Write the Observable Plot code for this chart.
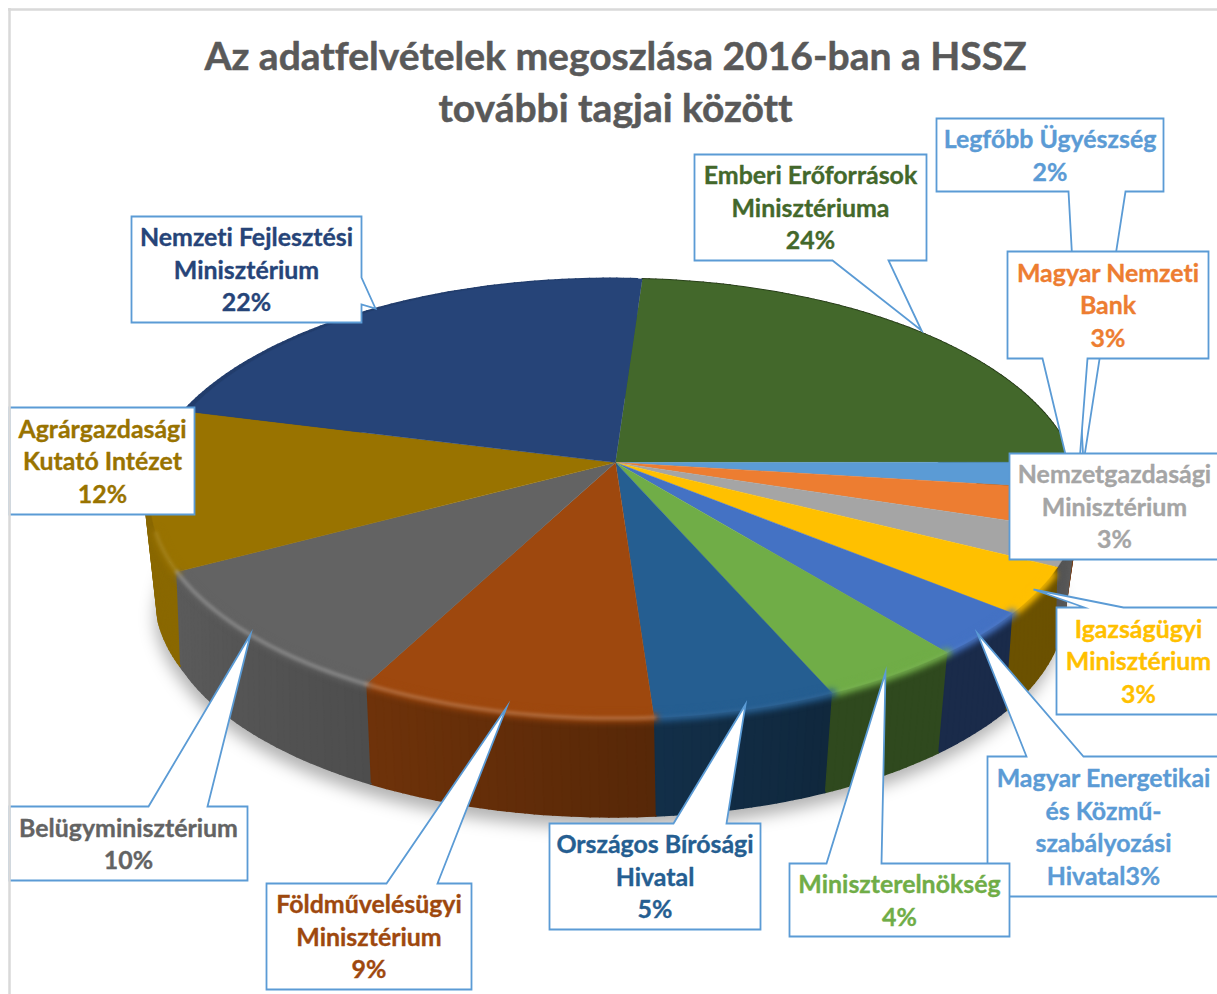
<!DOCTYPE html>
<html lang="hu">
<head>
<meta charset="utf-8">
<script src="https://cdn.jsdelivr.net/npm/d3@7"></script>
<script src="https://cdn.jsdelivr.net/npm/@observablehq/plot@0.6"></script>
<style>
html,body{margin:0;padding:0;background:#fff}
svg{display:block}
</style>
</head>
<body>
<div id="chart"></div>
<script>
// ---- data, in slice order (clockwise) ----
const names = ["Emberi Erőforrások Minisztériuma","Legfőbb Ügyészség","Magyar Nemzeti Bank","Nemzetgazdasági Minisztérium","Igazságügyi Minisztérium","Magyar Energetikai és Közmű-szabályozási Hivatal","Miniszterelnökség","Országos Bírósági Hivatal","Földművelésügyi Minisztérium","Belügyminisztérium","Agrárgazdasági Kutató Intézet","Nemzeti Fejlesztési Minisztérium"];
const shares = [23.9,2,2.9,2.6,3.4,3.25,4.3,5.45,8.8,9.5,11.8,22.1];
const labelLines = [
  ["Emberi Erőforrások","Minisztériuma","24%"],
  ["Legfőbb Ügyészség","2%"],
  ["Magyar Nemzeti","Bank","3%"],
  ["Nemzetgazdasági","Minisztérium","3%"],
  ["Igazságügyi","Minisztérium","3%"],
  ["Magyar Energetikai","és Közmű-","szabályozási","Hivatal3%"],
  ["Miniszterelnökség","4%"],
  ["Országos Bírósági","Hivatal","5%"],
  ["Földművelésügyi","Minisztérium","9%"],
  ["Belügyminisztérium","10%"],
  ["Agrárgazdasági","Kutató Intézet","12%"],
  ["Nemzeti Fejlesztési","Minisztérium","22%"]
];
const title = ["Az adatfelvételek megoszlása 2016-ban a HSSZ","további tagjai között"];

// ---- styles ----
const sliceColors = ["#43682B","#5B9BD5","#ED7D31","#A5A5A5","#FFC000","#4472C4","#70AD47","#255E91","#9E480E","#636363","#997300","#264478"];
const textColors  = ["#43682B","#5B9BD5","#ED7D31","#A5A5A5","#FFC000","#5B9BD5","#70AD47","#255E91","#9E480E","#636363","#997300","#264478"];
// wall shading at the clockwise start and end of each slice
const wallDarken  = [[.5,.5],[.5,.5],[.5,.5],[.45,.5],[.58,.58],[.62,.62],[.58,.58],[.58,.5],[.45,.3],[.22,.08],[.1,.1],[.1,.1]];
const rimGlow     = [0,0,0,0,0,.1,.1,.1,.5,.6,.25,0];
const FONT = "Lato, Carlito, 'Open Sans', sans-serif";
const CALLOUT = "#5B9BD5";

// ---- pie geometry ----
const startAngle = 3.9;
const topDisc = {cx:615, cy:462, rx:459, ry:214, k:.1636};
const botDisc = {cx:613, cy:575, rx:446, ry:205, k:.15};
// the wall seams lean with the perspective: bottom-disc angle offset
const seamLean = d3.scaleLinear([90,107,117,129,141,156,176,207.5,241.6,285,370],[-4,-6,-7,-2.3,-1,-.5,-.6,.5,3.7,0,0]);
// slight outward bulge of the wall at the far left
const bulge = d3.scaleLinear([240,255,290],[0,-5,-5]).clamp(true);
const project = (d, deg) => {
  const a = deg * Math.PI / 180, u = Math.sin(a), v = -Math.cos(a), s = 1 / (1 - d.k * v);
  return {x: d.cx + d.rx * u * s, y: d.cy + d.ry * v * s};
};
const total = d3.sum(shares);
const cum = d3.cumsum(shares);
const bounds = names.map((n, i) => ({
  a0: startAngle + (i ? cum[i - 1] : 0) / total * 360,
  a1: startAngle + cum[i] / total * 360
}));
const steps = (a0, a1) => d3.range(0, 1.0001, 1 / Math.max(2, Math.ceil(a1 - a0))).map(t => a0 + (a1 - a0) * t);
const arc = (a0, a1) => steps(a0, a1).map(a => project(topDisc, a));
const botPoint = a => { const p = project(botDisc, a + seamLean(a)); return {x: p.x + bulge(a), y: p.y}; };
const topWall = a => { const p = project(topDisc, a); return {x: p.x + bulge(a), y: p.y}; };

const faces = names.flatMap((name, i) => [
  {x: topDisc.cx, y: topDisc.cy}, ...arc(bounds[i].a0, bounds[i].a1)
].map(p => ({...p, name, color: sliceColors[i]})));

// each wall is a run of small quads, shaded along the slice
const walls = names.flatMap((name, i) => {
  const as = steps(bounds[i].a0, bounds[i].a1);
  return as.slice(1).flatMap((a, k) => {
    const t = (k + .5) / (as.length - 1);
    const dark = wallDarken[i][0] + (wallDarken[i][1] - wallDarken[i][0]) * t;
    const color = d3.interpolateRgb(sliceColors[i], "#000")(dark);
    return [topWall(as[k]), topWall(a), botPoint(a), botPoint(as[k])]
      .map(p => ({...p, name: name + k, color}));
  });
});

const rims = names.flatMap((name, i) => arc(bounds[i].a0, bounds[i].a1)
  .filter(p => p.y > 530 && p.x < 1052)
  .map(p => ({...p, name, color: sliceColors[i], glow: d3.interpolateRgb(sliceColors[i], "#fff")(.35)})));

const shadow = steps(90, 300).map(botPoint).map(p => ({x: p.x - 2, y: p.y + 11}));

// ---- callout layout: box [x1,y1,x2,y2], pointer base edge + tip ----
const boxes = [
  {i:1,  b:[936,118,1163,191],  edge:"bottom", p:[1068,1125], tip:[1083,462]},
  {i:2,  b:[1007,251,1208,358], edge:"bottom", p:[1042,1087], tip:[1076,500]},
  {i:3,  b:[1009,453,1226,559]},
  {i:4,  b:[1056,607,1226,714], edge:"top",    p:[1084,1123], tip:[1033,589]},
  {i:5,  b:[987,756,1226,896],  edge:"top",    p:[1026,1083], tip:[977,633]},
  {i:6,  b:[789,863,1009,936],  edge:"top",    p:[826,881],   tip:[885,672]},
  {i:7,  b:[549,823,760,929],   edge:"top",    p:[673,726],   tip:[745,704]},
  {i:8,  b:[266,883,471,989],   edge:"top",    p:[386,437],   tip:[506,707]},
  {i:9,  b:[9,806,247,880],     edge:"top",    p:[148,207],   tip:[250,634]},
  {i:10, b:[9,407,194,514]},
  {i:11, b:[131,216,361,322],   edge:"right",  p:[277,304],   tip:[375,308]},
  {i:0,  b:[694,154,926,260],   edge:"bottom", p:[832,888],   tip:[921,330]}
];
const outline = ({b:[x1,y1,x2,y2], edge, p, tip}) => {
  const T = edge === "top"    ? [[p[0],y1],tip,[p[1],y1]] : [];
  const R = edge === "right"  ? [[x2,p[0]],tip,[x2,p[1]]] : [];
  const B = edge === "bottom" ? [[p[1],y2],tip,[p[0],y2]] : [];
  return [[x1,y1],...T,[x2,y1],...R,[x2,y2],...B,[x1,y2],[x1,y1],[x1+1,y1]];
};
const callouts = boxes.flatMap(c => outline(c).map(([x,y]) => ({x, y, name: names[c.i]})));

const lineGap = 32.5;
const labelRows = boxes.flatMap(c => {
  const lines = labelLines[c.i];
  const [x1,y1,x2,y2] = c.b;
  const cx = c.i === 3 ? 1114 : c.i === 4 ? 1138 : c.i === 5 ? 1103 : c.i === 9 ? 128 : c.i === 10 ? 102 : (x1 + x2) / 2;
  const cy = (y1 + y2) / 2 + 1.5;
  return lines.map((t, j) => ({x: cx, y: cy + (j - (lines.length - 1) / 2) * lineGap, t, color: textColors[c.i]}));
});

const polyOpts = {x:"x", y:"y", z:"name", curve:"linear"};

const chart = Plot.plot({
  width: 1217, height: 994,
  margin: 0,
  x: {domain:[0,1217], range:[0,1217], axis:null},
  y: {domain:[0,994], range:[0,994], axis:null},
  color: {type:"identity"},
  style: {background:"#fff", fontVariantLigatures:"none"},
  marks: [
    // soft drop shadow
    Plot.line(shadow, {x:"x", y:"y", curve:"linear", fill:"#000", fillOpacity:.3, stroke:"none", imageFilter:"blur(8px)"}),
    // side walls and top face
    Plot.line(walls, {...polyOpts, fill:"color", stroke:"color", strokeWidth:2}),
    Plot.line(faces, {...polyOpts, fill:"color", stroke:"color", strokeWidth:.5}),
    // bevel along the rim
    Plot.line(rims, {...polyOpts, stroke:"color", strokeWidth:8, imageFilter:"blur(3px)"}),
    ...names.map((name, i) => Plot.line(rims.filter(d => d.name === name && rimGlow[i] > 0), {x:"x", y:"y", curve:"linear", stroke:"glow", strokeOpacity:rimGlow[i], strokeWidth:4, imageFilter:"blur(1.8px)"})),
    // callouts
    Plot.line(callouts, {...polyOpts, fill:"#fff", stroke:CALLOUT, strokeWidth:1.8, strokeLinejoin:"miter", strokeMiterlimit:10}),
    Plot.text(labelRows, {x:"x", y:"y", text:"t", fill:"color", stroke:"color", strokeWidth:.35, fontFamily:FONT, fontWeight:700, fontSize:24.9, textAnchor:"middle"}),
    // title
    Plot.text(title, {x:() => 615, y:(d, i) => i ? 109 : 57, text:d => d, fill:"#595959", stroke:"#595959", strokeWidth:.5, fontFamily:FONT, fontWeight:700, fontSize:39, textAnchor:"middle"}),
    // chart-area frame
    Plot.ruleX([9], {y1:8, y2:994, stroke:"#d9d9d9", strokeWidth:2.5}),
    Plot.ruleY([9], {x1:8, x2:1217, stroke:"#d9d9d9", strokeWidth:2.5})
  ]
});
document.getElementById("chart").append(chart);
</script>
</body>
</html>
